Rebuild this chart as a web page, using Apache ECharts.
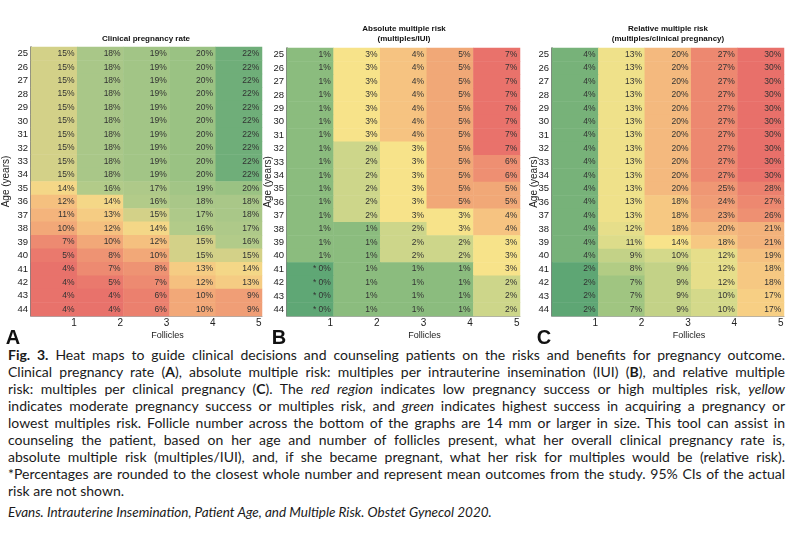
<!DOCTYPE html>
<html>
<head>
<meta charset="utf-8">
<script src="https://cdn.jsdelivr.net/npm/echarts@6/dist/echarts.min.js"></script>
<style>
  html, body { margin: 0; padding: 0; background: #fff; }
  #chart { position: absolute; left: 0; top: 0; width: 801px; height: 345px; }
  #caption { position: absolute; left: 8px; top: 346px; width: 777px;
    font-family: Lato, "Open Sans", sans-serif; font-size: 14px; line-height: 17px; color: #1a1a1a; }
  #caption .j { text-align: justify; text-align-last: justify; }
  #caption .l { text-align: left; }
  #caption .src { font-style: italic; font-size: 13.5px; margin-top: 5px; }
</style>
</head>
<body>
<div id="chart"></div>
<div id="caption">
  <div class="j"><b>Fig. 3.</b> Heat maps to guide clinical decisions and counseling patients on the risks and benefits for pregnancy outcome.</div>
  <div class="j">Clinical pregnancy rate (<b>A</b>), absolute multiple risk: multiples per intrauterine insemination (IUI) (<b>B</b>), and relative multiple</div>
  <div class="j">risk: multiples per clinical pregnancy (<b>C</b>). The <i>red region</i> indicates low pregnancy success or high multiples risk, <i>yellow</i></div>
  <div class="j">indicates moderate pregnancy success or multiples risk, and <i>green</i> indicates highest success in acquiring a pregnancy or</div>
  <div class="j">lowest multiples risk. Follicle number across the bottom of the graphs are 14 mm or larger in size. This tool can assist in</div>
  <div class="j">counseling the patient, based on her age and number of follicles present, what her overall clinical pregnancy rate is,</div>
  <div class="j">absolute multiple risk (multiples/IUI), and, if she became pregnant, what her risk for multiples would be (relative risk).</div>
  <div class="j">*Percentages are rounded to the closest whole number and represent mean outcomes from the study. 95% CIs of the actual</div>
  <div class="l">risk are not shown.</div>
  <div class="l src">Evans. Intrauterine Insemination, Patient Age, and Multiple Risk. Obstet Gynecol 2020.</div>
</div>
<script>
// ---- Data ----
var ages = ['25','26','27','28','29','30','31','32','33','34','35','36','37','38','39','40','41','42','43','44'];
var follicles = ['1','2','3','4','5'];

// Clinical pregnancy rate (%), rows = ages 25..44, columns = follicles 1..5
var pregnancyRate = [
  [15,18,19,20,22],[15,18,19,20,22],[15,18,19,20,22],[15,18,19,20,22],[15,18,19,20,22],
  [15,18,19,20,22],[15,18,19,20,22],[15,18,19,20,22],[15,18,19,20,22],[15,18,19,20,22],
  [14,16,17,19,20],[12,14,16,18,18],[11,13,15,17,18],[10,12,14,16,17],[7,10,12,15,16],
  [5,8,10,15,15],[4,7,8,13,14],[4,5,7,12,13],[4,4,6,10,9],[4,4,6,10,9]
];
// Absolute multiple risk (multiples/IUI, %)
var absoluteRisk = [
  [1,3,4,5,7],[1,3,4,5,7],[1,3,4,5,7],[1,3,4,5,7],[1,3,4,5,7],
  [1,3,4,5,7],[1,3,4,5,7],[1,2,3,5,7],[1,2,3,5,6],[1,2,3,5,6],
  [1,2,3,5,5],[1,2,3,5,5],[1,2,3,3,4],[1,1,2,3,4],[1,1,2,2,3],
  [1,1,2,2,3],[0,1,1,1,3],[0,1,1,1,2],[0,1,1,1,2],[0,1,1,1,2]
];
// Relative multiple risk (multiples/clinical pregnancy, %)
var relativeRisk = [
  [4,13,20,27,30],[4,13,20,27,30],[4,13,20,27,30],[4,13,20,27,30],[4,13,20,27,30],
  [4,13,20,27,30],[4,13,20,27,30],[4,13,20,27,30],[4,13,20,27,30],[4,13,20,27,30],
  [4,13,20,25,28],[4,13,18,24,27],[4,13,18,23,26],[4,12,18,20,21],[4,11,14,18,21],
  [4,9,10,12,19],[2,8,9,12,18],[2,7,9,12,18],[2,7,9,10,17],[2,7,9,10,17]
];

var panelTitles = [['Clinical pregnancy rate'], ['Absolute multiple risk', '(multiples/IUI)'], ['Relative multiple risk', '(multiples/clinical pregnancy)']];
var panelLetters = ['A', 'B', 'C'];

// ---- Build ----
function toCells(rows) {
  var out = [];
  rows.forEach(function (r, yi) { r.forEach(function (v, xi) { out.push([xi, yi, v]); }); });
  return out;
}

var grids = [
  { left: 30, top: 47, width: 232, height: 269, cx: 146, letterX: 13, nameGap: 20 },
  { left: 287, top: 48, width: 233, height: 268, cx: 404, letterX: 279, nameGap: 14 },
  { left: 552, top: 48, width: 232, height: 268, cx: 668, letterX: 544, nameGap: 13 }
];
var scales = [
  { min: 4, max: 22, colors: ['#e8726b', '#eb806e', '#ee9373', '#f2a878', '#f5c07f', '#f4d787', '#b2cb89', '#a9c788', '#9ac283', '#6fae79'] },
  { min: 0, max: 7, colors: ['#5fa775', '#8bbc7e', '#cdd68a', '#f7e38a', '#f6c381', '#f1a877', '#ee8f72', '#e9726b'] },
  { min: 2, max: 30, colors: ['#5ea674', '#8fbe7e', '#d4d98a', '#f8e38a', '#f6c882', '#f2aa79', '#ee9072', '#e8706a'] }
];
var datasets = [pregnancyRate, absoluteRisk, relativeRisk];

var option = {
  backgroundColor: '#fff',
  animation: false,
  grid: [], xAxis: [], yAxis: [], visualMap: [], series: [], graphic: []
};

grids.forEach(function (g, i) {
  option.grid.push({ left: g.left, top: g.top, width: g.width, height: g.height, containLabel: false });
  option.xAxis.push({
    type: 'category', gridIndex: i, data: follicles,
    name: 'Follicles', nameLocation: 'middle', nameGap: 15, nameMoveOverlap: false,
    nameTextStyle: { fontSize: 9, color: '#222', fontFamily: 'Liberation Sans, Arial', padding: [0, 0, 0, 42] },
    axisLine: { show: true, lineStyle: { color: '#aaa', width: 1 } },
    axisTick: { show: false },
    axisLabel: { fontSize: 10, color: '#222', margin: 2, fontFamily: 'Liberation Sans, Arial', padding: [0, 0, 0, 40] },
    splitLine: { show: false }
  });
  option.yAxis.push({
    type: 'category', gridIndex: i, data: ages, inverse: true,
    name: 'Age (years)', nameLocation: 'middle', nameRotate: 90, nameGap: g.nameGap, nameMoveOverlap: false,
    nameTextStyle: { fontSize: 10, color: '#222', fontFamily: 'Liberation Sans, Arial' },
    axisLine: { show: true, lineStyle: { color: '#555', width: 1.5 } },
    axisTick: { show: false },
    axisLabel: { fontSize: 9.5, color: '#222', margin: 3, fontFamily: 'Liberation Sans, Arial' },
    splitLine: { show: false }
  });
  option.visualMap.push({
    type: 'continuous', show: false, seriesIndex: i, dimension: 2,
    min: scales[i].min, max: scales[i].max, inRange: { color: scales[i].colors }
  });
  option.series.push({
    type: 'heatmap', xAxisIndex: i, yAxisIndex: i, data: toCells(datasets[i]),
    itemStyle: { borderWidth: 0 },
    emphasis: { disabled: true },
    label: {
      show: true, position: 'insideRight', distance: 3,
      fontSize: 8.5, color: '#333', fontFamily: 'Liberation Sans, Arial',
      formatter: function (p) { return (p.value[2] === 0 ? '* 0' : p.value[2]) + '%'; }
    }
  });
  var t = panelTitles[i];
  var tf = 'bold 8px "Liberation Sans", Arial';
  if (t.length === 1) {
    option.graphic.push({ type: 'text', x: g.cx, y: 39, style: { text: t[0], align: 'center', verticalAlign: 'middle', textAlign: 'center', textVerticalAlign: 'middle', font: tf, fill: '#111' } });
  } else {
    option.graphic.push({ type: 'text', x: g.cx, y: 29, style: { text: t[0], align: 'center', verticalAlign: 'middle', textAlign: 'center', textVerticalAlign: 'middle', font: tf, fill: '#111' } });
    option.graphic.push({ type: 'text', x: g.cx, y: 39, style: { text: t[1], align: 'center', verticalAlign: 'middle', textAlign: 'center', textVerticalAlign: 'middle', font: tf, fill: '#111' } });
  }
  option.graphic.push({ type: 'text', x: g.letterX, y: 338, style: { text: panelLetters[i], align: 'center', verticalAlign: 'middle', textAlign: 'center', textVerticalAlign: 'middle', font: 'bold 20px "Liberation Sans", Arial', fill: '#111' } });
});

var chart = echarts.init(document.getElementById('chart'), null, { renderer: 'canvas' });
chart.setOption(option);
</script>
</body>
</html>
